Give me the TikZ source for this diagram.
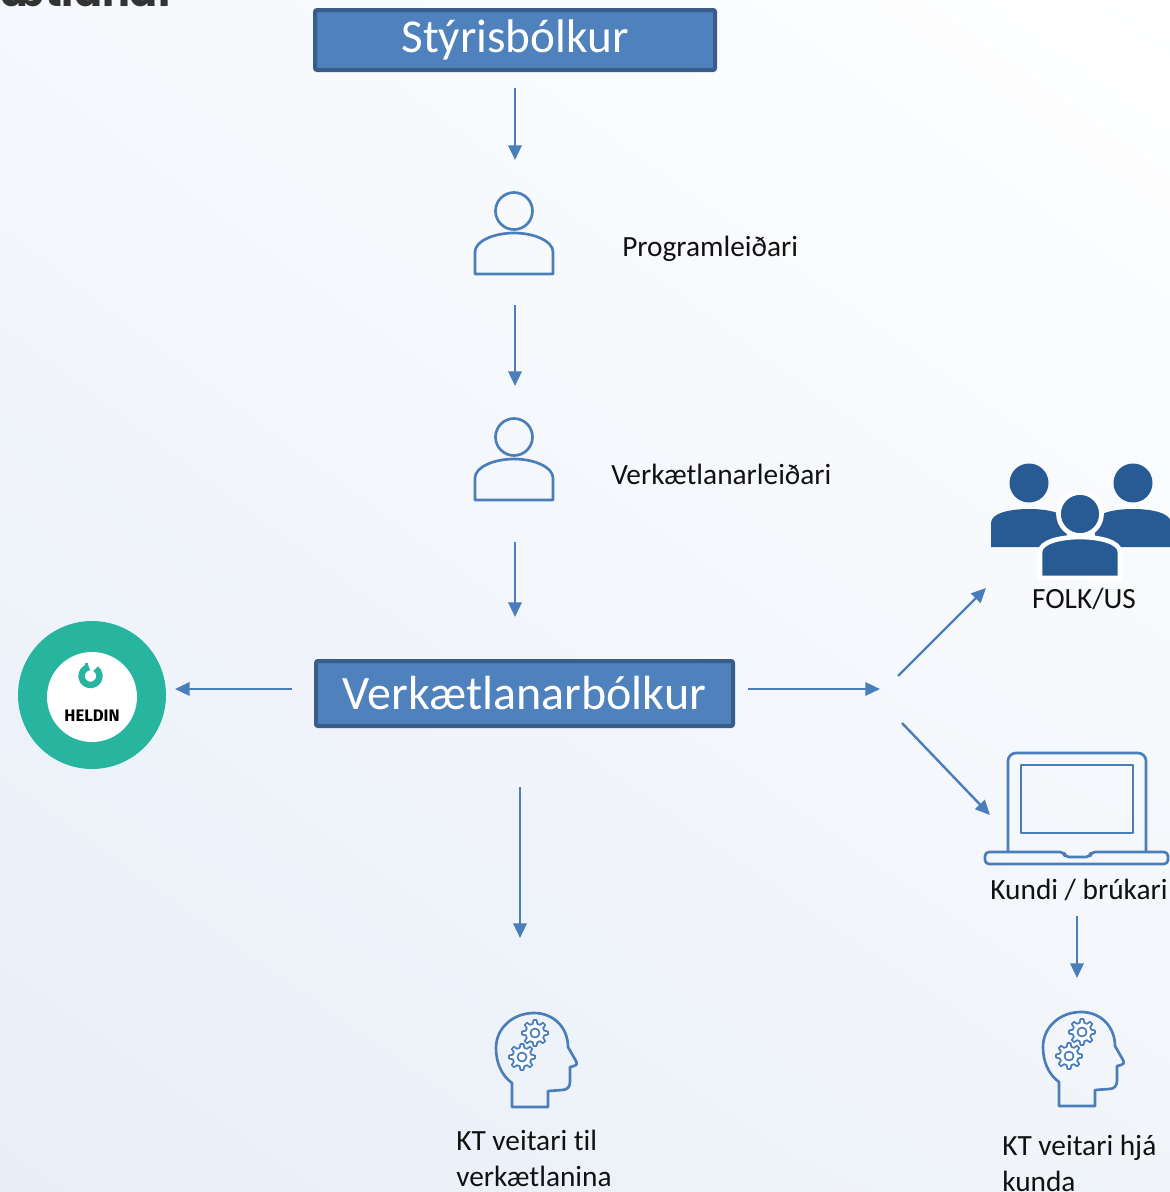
\documentclass[tikz,border=0pt]{standalone}
\usepackage{fontspec}
\setmainfont{Carlito}[Ligatures=NoCommon]
\newfontfamily\titlefont{Poppins}
\newfontfamily\logofont{Fira Sans}
\usetikzlibrary{arrows.meta,shadings}
\definecolor{boxfill}{HTML}{4F81BD}
\definecolor{boxline}{HTML}{385D8A}
\definecolor{arrowblue}{HTML}{4A7EBB}
\definecolor{iconblue}{HTML}{4A7EBB}
\definecolor{groupblue}{HTML}{285A94}
\definecolor{heldinteal}{HTML}{27B5A0}
\definecolor{labeltext}{HTML}{111111}
\definecolor{titlegray}{HTML}{333333}
\definecolor{bgul}{HTML}{F5F8FC}
\definecolor{bgll}{HTML}{E8EEF8}
\definecolor{bglr}{HTML}{F1F5FA}
\begin{document}
\begin{tikzpicture}[x=0.75pt,y=-0.75pt,
  bluebox/.style={draw=boxline, fill=boxfill, line width=3pt, rounded corners=1.5pt, text=white, inner sep=0pt},
  arr/.style={draw=arrowblue, line width=1.8pt, -{Triangle[length=11pt,width=10pt]}},
  iconline/.style={draw=iconblue, line width=2pt, line join=round},
  gearline/.style={draw=iconblue, line width=1.3pt, line join=round, fill=white},
  lbl/.style={text=labeltext, inner sep=0pt, font=\fontsize{22pt}{27pt}\selectfont},
  groupfill/.style={fill=groupblue},
  personicon/.pic={
    \draw[iconline] (0,0) circle[radius=18.5];
    \draw[iconline] (-39,63) -- (-39,41) .. controls (-39,30) and (-20,22) .. (0,22)
      .. controls (20,22) and (39,30) .. (39,41) -- (39,63) -- cycle;
  },
  gearhead/.pic={
    \draw[iconline] (32,107) -- (32,83) .. controls (21,75) and (16,62) .. (16,48)
      .. controls (16,28) and (33,13) .. (54,13) .. controls (74,13) and (88,28) .. (88,47)
      -- (96,61) .. controls (97.5,63.5) and (96.5,66) .. (94,66) -- (90,67) -- (90,82)
      .. controls (90,87) and (87,90) .. (82,90) -- (68,91) -- (68,107) -- cycle;
    \foreach \cx/\cy in {55/33, 42/57}{
      \begin{scope}[shift={(\cx,\cy)}]
        \draw[gearline] (-14:9.5) \foreach \a in {0,45,...,315}{
            -- ({\a-14}:9.5) -- ({\a-7}:13) -- ({\a+7}:13) -- ({\a+14}:9.5) } -- cycle;
        \draw[gearline] (0,0) circle[radius=4.5];
      \end{scope}
    }
  }
]
\useasboundingbox (0,0) rectangle (1170,1192);
\shade[upper left=bgul, upper right=white, lower left=bgll, lower right=bglr] (0,0) rectangle (1170,1192);

% cut-off title
\begin{scope}
  \clip (0,0) rectangle (1170,1192);
  \node[anchor=base east, inner sep=0pt, text=titlegray, font=\titlefont\bfseries\fontsize{31pt}{36pt}\selectfont] (title) at (176,7) {Verkætlanar};
\end{scope}

% boxes
\node[bluebox, minimum width=300pt, minimum height=45pt, font=\fontsize{35.4pt}{40pt}\selectfont] (styr) at (515,40) {Stýrisbólkur};
\node[bluebox, minimum width=312.75pt, minimum height=48.75pt, font=\fontsize{36pt}{42pt}\selectfont] (verk) at (524.5,693.5) {Verkætlanarbólkur};

% person icons
\pic at (514,211) {personicon};
\pic at (514,437) {personicon};
\node[lbl, anchor=west] (pl) at (622,249) {Programleiðari};
\node[lbl, anchor=west] (vl) at (611,474) {Verkætlanarleiðari};

% HELDIN logo
\fill[heldinteal] (92,695) circle[radius=74];
\fill[white] (92,697) circle[radius=45];
\draw[heldinteal, line width=4.8pt] (90.5,676) ++(-100:9) arc[start angle=-100, end angle=-415, radius=9];
\fill[heldinteal] (84.5,662.5) rectangle (88,668);
\node[inner sep=0pt, font=\logofont\bfseries\fontsize{12.5pt}{14pt}\selectfont] (heldin) at (92,716) {HELDIN};

% group icon
\fill[groupfill] (1029,483) circle[radius=19.5];
\fill[groupfill] (991,547) -- (991,523) .. controls (991,513) and (1010,509) .. (1029,509)
   .. controls (1048,509) and (1067,513) .. (1067,523) -- (1067,547) -- cycle;
\fill[groupfill] (1133,483) circle[radius=19.5];
\fill[groupfill] (1095,547) -- (1095,523) .. controls (1095,513) and (1114,509) .. (1133,509)
   .. controls (1152,509) and (1171,513) .. (1171,523) -- (1171,547) -- cycle;
\filldraw[groupfill, draw=white, line width=3.5pt] (1080,514) circle[radius=21.5];
\filldraw[groupfill, draw=white, line width=3.5pt] (1040,578) -- (1040,552) .. controls (1040,542) and (1060,537) .. (1080,537)
   .. controls (1100,537) and (1120,542) .. (1120,552) -- (1120,578) -- cycle;
\node[lbl, anchor=center] (folk) at (1084,599) {FOLK/US};

% laptop
\draw[iconline, rounded corners=6] (1008,852) -- (1008,753) -- (1146,753) -- (1146,852);
\draw[iconline] (1021,765) rectangle (1133,833);
\draw[iconline, rounded corners=3] (985,852) -- (1064,852) -- (1065,857) -- (1090,857) -- (1091,852) -- (1168,852)
   -- (1168,864) -- (985,864) -- cycle;
\node[lbl, anchor=center] (kundi) at (1079,890) {Kundi / brúkari};

% gear heads
\pic at (480,1000) {gearhead};
\pic at (1027,999) {gearhead};
\node[lbl, anchor=west, align=left] (kt1) at (456,1158) {KT veitari til\\verkætlanina};
\node[lbl, anchor=west, align=left] (kt2) at (1002,1163) {KT veitari hjá\\kunda};

% arrow end points
\coordinate (a1s) at (515,88);   \coordinate (a1e) at (515,160);
\coordinate (a2s) at (515,305);  \coordinate (a2e) at (515,386);
\coordinate (a3s) at (515,542);  \coordinate (a3e) at (515,617);
\coordinate (aLs) at (292,689);  \coordinate (aLe) at (175,689);
\coordinate (aRs) at (748,689);  \coordinate (aRe) at (880,689);
\coordinate (aUs) at (898,676);  \coordinate (aUe) at (986,588);
\coordinate (aDs) at (902,723);  \coordinate (aDe) at (990,815);
\coordinate (aVs) at (520,787);  \coordinate (aVe) at (520,938);
\coordinate (aKs) at (1077,916); \coordinate (aKe) at (1077,978);

\draw[arr] (a1s) -- (a1e);
\draw[arr] (a2s) -- (a2e);
\draw[arr] (a3s) -- (a3e);
\draw[arr] (aLs) -- (aLe);
\draw[arr] (aRs) -- (aRe);
\draw[arr] (aUs) -- (aUe);
\draw[arr] (aDs) -- (aDe);
\draw[arr] (aVs) -- (aVe);
\draw[arr] (aKs) -- (aKe);
\end{tikzpicture}
\end{document}
